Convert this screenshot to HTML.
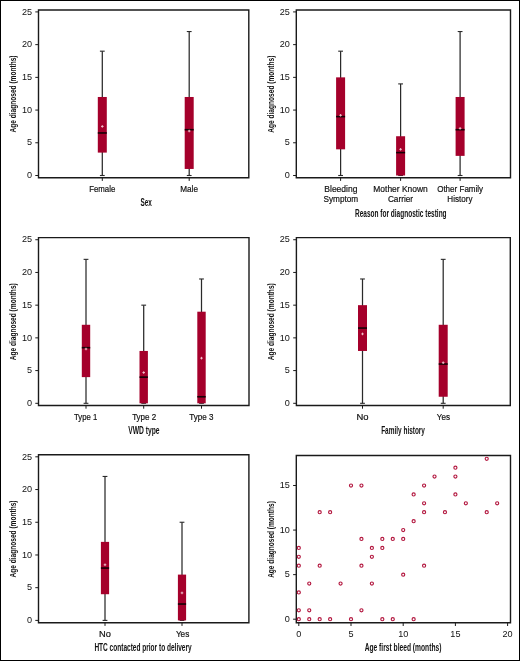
<!DOCTYPE html>
<html><head><meta charset="utf-8"><style>
html,body{margin:0;padding:0;background:#fff;}
#c{position:relative;width:520px;height:661px;box-sizing:border-box;border:1px solid #000;overflow:hidden;background:#fff;}
svg{position:absolute;left:-1px;top:-1px;will-change:transform;}
text{font-family:"Liberation Sans", sans-serif;}
</style></head><body>
<div id="c"><svg width="520" height="661" viewBox="0 0 520 661">
<path d="M38.5,10.0 H248.8 V177.7 H38.5 Z" fill="none" stroke="#1a1a1a" stroke-width="1.4"/>
<line x1="35.30" y1="175.50" x2="38.50" y2="175.50" stroke="#1a1a1a" stroke-width="1"/>
<text transform="translate(32.00,178.20)" font-size="9.1" text-anchor="end" font-weight="normal" fill="#111">0</text>
<line x1="35.30" y1="142.78" x2="38.50" y2="142.78" stroke="#1a1a1a" stroke-width="1"/>
<text transform="translate(32.00,145.48)" font-size="9.1" text-anchor="end" font-weight="normal" fill="#111">5</text>
<line x1="35.30" y1="110.07" x2="38.50" y2="110.07" stroke="#1a1a1a" stroke-width="1"/>
<text transform="translate(32.00,112.77)" font-size="9.1" text-anchor="end" font-weight="normal" fill="#111">10</text>
<line x1="35.30" y1="77.36" x2="38.50" y2="77.36" stroke="#1a1a1a" stroke-width="1"/>
<text transform="translate(32.00,80.06)" font-size="9.1" text-anchor="end" font-weight="normal" fill="#111">15</text>
<line x1="35.30" y1="44.64" x2="38.50" y2="44.64" stroke="#1a1a1a" stroke-width="1"/>
<text transform="translate(32.00,47.34)" font-size="9.1" text-anchor="end" font-weight="normal" fill="#111">20</text>
<line x1="35.30" y1="11.92" x2="38.50" y2="11.92" stroke="#1a1a1a" stroke-width="1"/>
<text transform="translate(32.00,14.62)" font-size="9.1" text-anchor="end" font-weight="normal" fill="#111">25</text>
<text transform="translate(16.20,132.56) rotate(-90) scale(0.708,1)" font-size="9.3" text-anchor="start" font-weight="bold" fill="#111">Age diagnosed (months)</text>
<line x1="102.30" y1="177.70" x2="102.30" y2="180.90" stroke="#1a1a1a" stroke-width="1"/>
<text transform="translate(89.17,191.80) scale(0.853,1)" font-size="9.2" text-anchor="start" font-weight="normal" fill="#111" stroke="#111" stroke-width="0.2">Female</text>
<line x1="189.20" y1="177.70" x2="189.20" y2="180.90" stroke="#1a1a1a" stroke-width="1"/>
<text transform="translate(180.25,191.80) scale(0.890,1)" font-size="9.2" text-anchor="start" font-weight="normal" fill="#111" stroke="#111" stroke-width="0.2">Male</text>
<line x1="102.30" y1="51.18" x2="102.30" y2="175.50" stroke="#2a2a2a" stroke-width="1.25"/>
<line x1="99.90" y1="175.50" x2="104.70" y2="175.50" stroke="#2a2a2a" stroke-width="1.1"/>
<line x1="99.90" y1="51.18" x2="104.70" y2="51.18" stroke="#2a2a2a" stroke-width="1.1"/>
<rect x="97.80" y="96.98" width="9.00" height="55.62" fill="#a5002b"/>
<rect x="97.80" y="132.17" width="9.00" height="1.6" fill="#150005"/>
<path d="M101.00,126.43 H103.60 M102.30,125.13 V127.73" stroke="#f3c9d3" stroke-width="0.9"/>
<line x1="189.20" y1="31.55" x2="189.20" y2="175.50" stroke="#2a2a2a" stroke-width="1.25"/>
<line x1="186.80" y1="175.50" x2="191.60" y2="175.50" stroke="#2a2a2a" stroke-width="1.1"/>
<line x1="186.80" y1="31.55" x2="191.60" y2="31.55" stroke="#2a2a2a" stroke-width="1.1"/>
<rect x="184.70" y="96.98" width="9.00" height="71.97" fill="#a5002b"/>
<rect x="184.70" y="128.90" width="9.00" height="1.6" fill="#150005"/>
<path d="M187.90,131.01 H190.50 M189.20,129.71 V132.31" stroke="#f3c9d3" stroke-width="0.9"/>
<text transform="translate(140.51,205.80) scale(0.642,1)" font-size="10.0" text-anchor="start" font-weight="bold" fill="#111">Sex</text>
<path d="M296.3,10.0 H510.5 V177.7 H296.3 Z" fill="none" stroke="#1a1a1a" stroke-width="1.4"/>
<line x1="293.10" y1="175.50" x2="296.30" y2="175.50" stroke="#1a1a1a" stroke-width="1"/>
<text transform="translate(289.80,178.20)" font-size="9.1" text-anchor="end" font-weight="normal" fill="#111">0</text>
<line x1="293.10" y1="142.78" x2="296.30" y2="142.78" stroke="#1a1a1a" stroke-width="1"/>
<text transform="translate(289.80,145.48)" font-size="9.1" text-anchor="end" font-weight="normal" fill="#111">5</text>
<line x1="293.10" y1="110.07" x2="296.30" y2="110.07" stroke="#1a1a1a" stroke-width="1"/>
<text transform="translate(289.80,112.77)" font-size="9.1" text-anchor="end" font-weight="normal" fill="#111">10</text>
<line x1="293.10" y1="77.36" x2="296.30" y2="77.36" stroke="#1a1a1a" stroke-width="1"/>
<text transform="translate(289.80,80.06)" font-size="9.1" text-anchor="end" font-weight="normal" fill="#111">15</text>
<line x1="293.10" y1="44.64" x2="296.30" y2="44.64" stroke="#1a1a1a" stroke-width="1"/>
<text transform="translate(289.80,47.34)" font-size="9.1" text-anchor="end" font-weight="normal" fill="#111">20</text>
<line x1="293.10" y1="11.92" x2="296.30" y2="11.92" stroke="#1a1a1a" stroke-width="1"/>
<text transform="translate(289.80,14.62)" font-size="9.1" text-anchor="end" font-weight="normal" fill="#111">25</text>
<text transform="translate(274.20,132.76) rotate(-90) scale(0.709,1)" font-size="9.3" text-anchor="start" font-weight="bold" fill="#111">Age diagnosed (months)</text>
<line x1="340.60" y1="177.70" x2="340.60" y2="180.90" stroke="#1a1a1a" stroke-width="1"/>
<text transform="translate(324.32,192.00) scale(0.926,1)" font-size="9.2" text-anchor="start" font-weight="normal" fill="#111" stroke="#111" stroke-width="0.2">Bleeding</text>
<text transform="translate(323.43,201.90) scale(0.895,1)" font-size="9.2" text-anchor="start" font-weight="normal" fill="#111" stroke="#111" stroke-width="0.2">Symptom</text>
<line x1="400.60" y1="177.70" x2="400.60" y2="180.90" stroke="#1a1a1a" stroke-width="1"/>
<text transform="translate(373.32,192.00) scale(0.920,1)" font-size="9.2" text-anchor="start" font-weight="normal" fill="#111" stroke="#111" stroke-width="0.2">Mother Known</text>
<text transform="translate(387.89,201.90) scale(0.898,1)" font-size="9.2" text-anchor="start" font-weight="normal" fill="#111" stroke="#111" stroke-width="0.2">Carrier</text>
<line x1="460.10" y1="177.70" x2="460.10" y2="180.90" stroke="#1a1a1a" stroke-width="1"/>
<text transform="translate(437.14,192.00) scale(0.876,1)" font-size="9.2" text-anchor="start" font-weight="normal" fill="#111" stroke="#111" stroke-width="0.2">Other Family</text>
<text transform="translate(447.35,201.90) scale(0.879,1)" font-size="9.2" text-anchor="start" font-weight="normal" fill="#111" stroke="#111" stroke-width="0.2">History</text>
<line x1="340.60" y1="51.18" x2="340.60" y2="175.50" stroke="#2a2a2a" stroke-width="1.25"/>
<line x1="338.20" y1="175.50" x2="343.00" y2="175.50" stroke="#2a2a2a" stroke-width="1.1"/>
<line x1="338.20" y1="51.18" x2="343.00" y2="51.18" stroke="#2a2a2a" stroke-width="1.1"/>
<rect x="336.10" y="77.36" width="9.00" height="71.97" fill="#a5002b"/>
<rect x="336.10" y="115.81" width="9.00" height="1.6" fill="#150005"/>
<path d="M339.30,115.30 H341.90 M340.60,114.00 V116.60" stroke="#f3c9d3" stroke-width="0.9"/>
<line x1="400.60" y1="83.90" x2="400.60" y2="175.50" stroke="#2a2a2a" stroke-width="1.25"/>
<line x1="398.20" y1="175.50" x2="403.00" y2="175.50" stroke="#2a2a2a" stroke-width="1.1"/>
<line x1="398.20" y1="83.90" x2="403.00" y2="83.90" stroke="#2a2a2a" stroke-width="1.1"/>
<rect x="396.10" y="136.24" width="9.00" height="39.26" fill="#a5002b"/>
<rect x="396.10" y="151.80" width="9.00" height="1.6" fill="#150005"/>
<path d="M399.30,149.33 H401.90 M400.60,148.03 V150.63" stroke="#f3c9d3" stroke-width="0.9"/>
<line x1="460.10" y1="31.55" x2="460.10" y2="175.50" stroke="#2a2a2a" stroke-width="1.25"/>
<line x1="457.70" y1="175.50" x2="462.50" y2="175.50" stroke="#2a2a2a" stroke-width="1.1"/>
<line x1="457.70" y1="31.55" x2="462.50" y2="31.55" stroke="#2a2a2a" stroke-width="1.1"/>
<rect x="455.60" y="96.98" width="9.00" height="58.89" fill="#a5002b"/>
<rect x="455.60" y="128.90" width="9.00" height="1.6" fill="#150005"/>
<path d="M458.80,128.39 H461.40 M460.10,127.09 V129.69" stroke="#f3c9d3" stroke-width="0.9"/>
<text transform="translate(354.98,216.60) scale(0.652,1)" font-size="10.0" text-anchor="start" font-weight="bold" fill="#111">Reason for diagnostic testing</text>
<path d="M38.5,237.60000000000002 H249.0 V405.5 H38.5 Z" fill="none" stroke="#1a1a1a" stroke-width="1.4"/>
<line x1="35.30" y1="403.30" x2="38.50" y2="403.30" stroke="#1a1a1a" stroke-width="1"/>
<text transform="translate(32.00,406.00)" font-size="9.1" text-anchor="end" font-weight="normal" fill="#111">0</text>
<line x1="35.30" y1="370.59" x2="38.50" y2="370.59" stroke="#1a1a1a" stroke-width="1"/>
<text transform="translate(32.00,373.29)" font-size="9.1" text-anchor="end" font-weight="normal" fill="#111">5</text>
<line x1="35.30" y1="337.87" x2="38.50" y2="337.87" stroke="#1a1a1a" stroke-width="1"/>
<text transform="translate(32.00,340.57)" font-size="9.1" text-anchor="end" font-weight="normal" fill="#111">10</text>
<line x1="35.30" y1="305.16" x2="38.50" y2="305.16" stroke="#1a1a1a" stroke-width="1"/>
<text transform="translate(32.00,307.86)" font-size="9.1" text-anchor="end" font-weight="normal" fill="#111">15</text>
<line x1="35.30" y1="272.44" x2="38.50" y2="272.44" stroke="#1a1a1a" stroke-width="1"/>
<text transform="translate(32.00,275.14)" font-size="9.1" text-anchor="end" font-weight="normal" fill="#111">20</text>
<line x1="35.30" y1="239.72" x2="38.50" y2="239.72" stroke="#1a1a1a" stroke-width="1"/>
<text transform="translate(32.00,242.42)" font-size="9.1" text-anchor="end" font-weight="normal" fill="#111">25</text>
<text transform="translate(16.20,360.36) rotate(-90) scale(0.708,1)" font-size="9.3" text-anchor="start" font-weight="bold" fill="#111">Age diagnosed (months)</text>
<line x1="86.00" y1="405.50" x2="86.00" y2="408.70" stroke="#1a1a1a" stroke-width="1"/>
<text transform="translate(74.05,419.60) scale(0.841,1)" font-size="9.2" text-anchor="start" font-weight="normal" fill="#111" stroke="#111" stroke-width="0.2">Type 1</text>
<line x1="143.70" y1="405.50" x2="143.70" y2="408.70" stroke="#1a1a1a" stroke-width="1"/>
<text transform="translate(132.14,419.60) scale(0.872,1)" font-size="9.2" text-anchor="start" font-weight="normal" fill="#111" stroke="#111" stroke-width="0.2">Type 2</text>
<line x1="201.50" y1="405.50" x2="201.50" y2="408.70" stroke="#1a1a1a" stroke-width="1"/>
<text transform="translate(189.24,419.60) scale(0.876,1)" font-size="9.2" text-anchor="start" font-weight="normal" fill="#111" stroke="#111" stroke-width="0.2">Type 3</text>
<line x1="86.00" y1="259.35" x2="86.00" y2="403.30" stroke="#2a2a2a" stroke-width="1.25"/>
<line x1="83.60" y1="403.30" x2="88.40" y2="403.30" stroke="#2a2a2a" stroke-width="1.1"/>
<line x1="83.60" y1="259.35" x2="88.40" y2="259.35" stroke="#2a2a2a" stroke-width="1.1"/>
<rect x="81.80" y="324.78" width="8.40" height="52.34" fill="#a5002b"/>
<rect x="81.80" y="346.88" width="8.40" height="1.6" fill="#150005"/>
<path d="M84.70,348.99 H87.30 M86.00,347.69 V350.29" stroke="#f3c9d3" stroke-width="0.9"/>
<line x1="143.70" y1="305.16" x2="143.70" y2="403.30" stroke="#2a2a2a" stroke-width="1.25"/>
<line x1="141.30" y1="403.30" x2="146.10" y2="403.30" stroke="#2a2a2a" stroke-width="1.1"/>
<line x1="141.30" y1="305.16" x2="146.10" y2="305.16" stroke="#2a2a2a" stroke-width="1.1"/>
<rect x="139.50" y="350.96" width="8.40" height="52.34" fill="#a5002b"/>
<rect x="139.50" y="376.33" width="8.40" height="1.6" fill="#150005"/>
<path d="M142.40,372.55 H145.00 M143.70,371.25 V373.85" stroke="#f3c9d3" stroke-width="0.9"/>
<line x1="201.50" y1="278.98" x2="201.50" y2="403.30" stroke="#2a2a2a" stroke-width="1.25"/>
<line x1="199.10" y1="403.30" x2="203.90" y2="403.30" stroke="#2a2a2a" stroke-width="1.1"/>
<line x1="199.10" y1="278.98" x2="203.90" y2="278.98" stroke="#2a2a2a" stroke-width="1.1"/>
<rect x="197.30" y="311.70" width="8.40" height="91.60" fill="#a5002b"/>
<rect x="197.30" y="395.96" width="8.40" height="1.6" fill="#150005"/>
<path d="M200.20,358.15 H202.80 M201.50,356.85 V359.45" stroke="#f3c9d3" stroke-width="0.9"/>
<text transform="translate(128.17,433.60) scale(0.675,1)" font-size="10.0" text-anchor="start" font-weight="bold" fill="#111">VWD type</text>
<path d="M296.4,237.60000000000002 H510.3 V405.5 H296.4 Z" fill="none" stroke="#1a1a1a" stroke-width="1.4"/>
<line x1="293.20" y1="403.30" x2="296.40" y2="403.30" stroke="#1a1a1a" stroke-width="1"/>
<text transform="translate(289.90,406.00)" font-size="9.1" text-anchor="end" font-weight="normal" fill="#111">0</text>
<line x1="293.20" y1="370.59" x2="296.40" y2="370.59" stroke="#1a1a1a" stroke-width="1"/>
<text transform="translate(289.90,373.29)" font-size="9.1" text-anchor="end" font-weight="normal" fill="#111">5</text>
<line x1="293.20" y1="337.87" x2="296.40" y2="337.87" stroke="#1a1a1a" stroke-width="1"/>
<text transform="translate(289.90,340.57)" font-size="9.1" text-anchor="end" font-weight="normal" fill="#111">10</text>
<line x1="293.20" y1="305.16" x2="296.40" y2="305.16" stroke="#1a1a1a" stroke-width="1"/>
<text transform="translate(289.90,307.86)" font-size="9.1" text-anchor="end" font-weight="normal" fill="#111">15</text>
<line x1="293.20" y1="272.44" x2="296.40" y2="272.44" stroke="#1a1a1a" stroke-width="1"/>
<text transform="translate(289.90,275.14)" font-size="9.1" text-anchor="end" font-weight="normal" fill="#111">20</text>
<line x1="293.20" y1="239.72" x2="296.40" y2="239.72" stroke="#1a1a1a" stroke-width="1"/>
<text transform="translate(289.90,242.42)" font-size="9.1" text-anchor="end" font-weight="normal" fill="#111">25</text>
<text transform="translate(274.20,360.36) rotate(-90) scale(0.708,1)" font-size="9.3" text-anchor="start" font-weight="bold" fill="#111">Age diagnosed (months)</text>
<line x1="362.50" y1="405.50" x2="362.50" y2="408.70" stroke="#1a1a1a" stroke-width="1"/>
<text transform="translate(356.55,419.60) scale(1.026,1)" font-size="9.2" text-anchor="start" font-weight="normal" fill="#111" stroke="#111" stroke-width="0.2">No</text>
<line x1="443.20" y1="405.50" x2="443.20" y2="408.70" stroke="#1a1a1a" stroke-width="1"/>
<text transform="translate(436.80,419.60) scale(0.879,1)" font-size="9.2" text-anchor="start" font-weight="normal" fill="#111" stroke="#111" stroke-width="0.2">Yes</text>
<line x1="362.50" y1="278.98" x2="362.50" y2="403.30" stroke="#2a2a2a" stroke-width="1.25"/>
<line x1="360.10" y1="403.30" x2="364.90" y2="403.30" stroke="#2a2a2a" stroke-width="1.1"/>
<line x1="360.10" y1="278.98" x2="364.90" y2="278.98" stroke="#2a2a2a" stroke-width="1.1"/>
<rect x="358.00" y="305.16" width="9.00" height="45.80" fill="#a5002b"/>
<rect x="358.00" y="327.26" width="9.00" height="1.6" fill="#150005"/>
<path d="M361.20,333.94 H363.80 M362.50,332.64 V335.24" stroke="#f3c9d3" stroke-width="0.9"/>
<line x1="443.20" y1="259.35" x2="443.20" y2="403.30" stroke="#2a2a2a" stroke-width="1.25"/>
<line x1="440.80" y1="403.30" x2="445.60" y2="403.30" stroke="#2a2a2a" stroke-width="1.1"/>
<line x1="440.80" y1="259.35" x2="445.60" y2="259.35" stroke="#2a2a2a" stroke-width="1.1"/>
<rect x="438.70" y="324.78" width="9.00" height="71.97" fill="#a5002b"/>
<rect x="438.70" y="363.24" width="9.00" height="1.6" fill="#150005"/>
<path d="M441.90,362.73 H444.50 M443.20,361.43 V364.03" stroke="#f3c9d3" stroke-width="0.9"/>
<text transform="translate(381.18,433.60) scale(0.647,1)" font-size="10.0" text-anchor="start" font-weight="bold" fill="#111">Family history</text>
<path d="M38.5,454.8 H248.9 V622.7 H38.5 Z" fill="none" stroke="#1a1a1a" stroke-width="1.4"/>
<line x1="35.30" y1="620.40" x2="38.50" y2="620.40" stroke="#1a1a1a" stroke-width="1"/>
<text transform="translate(32.00,623.10)" font-size="9.1" text-anchor="end" font-weight="normal" fill="#111">0</text>
<line x1="35.30" y1="587.68" x2="38.50" y2="587.68" stroke="#1a1a1a" stroke-width="1"/>
<text transform="translate(32.00,590.38)" font-size="9.1" text-anchor="end" font-weight="normal" fill="#111">5</text>
<line x1="35.30" y1="554.97" x2="38.50" y2="554.97" stroke="#1a1a1a" stroke-width="1"/>
<text transform="translate(32.00,557.67)" font-size="9.1" text-anchor="end" font-weight="normal" fill="#111">10</text>
<line x1="35.30" y1="522.25" x2="38.50" y2="522.25" stroke="#1a1a1a" stroke-width="1"/>
<text transform="translate(32.00,524.96)" font-size="9.1" text-anchor="end" font-weight="normal" fill="#111">15</text>
<line x1="35.30" y1="489.54" x2="38.50" y2="489.54" stroke="#1a1a1a" stroke-width="1"/>
<text transform="translate(32.00,492.24)" font-size="9.1" text-anchor="end" font-weight="normal" fill="#111">20</text>
<line x1="35.30" y1="456.82" x2="38.50" y2="456.82" stroke="#1a1a1a" stroke-width="1"/>
<text transform="translate(32.00,459.52)" font-size="9.1" text-anchor="end" font-weight="normal" fill="#111">25</text>
<text transform="translate(16.20,577.56) rotate(-90) scale(0.708,1)" font-size="9.3" text-anchor="start" font-weight="bold" fill="#111">Age diagnosed (months)</text>
<line x1="105.00" y1="622.70" x2="105.00" y2="625.90" stroke="#1a1a1a" stroke-width="1"/>
<text transform="translate(98.96,636.80) scale(1.007,1)" font-size="9.2" text-anchor="start" font-weight="normal" fill="#111" stroke="#111" stroke-width="0.2">No</text>
<line x1="182.00" y1="622.70" x2="182.00" y2="625.90" stroke="#1a1a1a" stroke-width="1"/>
<text transform="translate(175.89,636.80) scale(0.893,1)" font-size="9.2" text-anchor="start" font-weight="normal" fill="#111" stroke="#111" stroke-width="0.2">Yes</text>
<line x1="105.00" y1="476.45" x2="105.00" y2="620.40" stroke="#2a2a2a" stroke-width="1.25"/>
<line x1="102.60" y1="620.40" x2="107.40" y2="620.40" stroke="#2a2a2a" stroke-width="1.1"/>
<line x1="102.60" y1="476.45" x2="107.40" y2="476.45" stroke="#2a2a2a" stroke-width="1.1"/>
<rect x="100.90" y="541.88" width="8.20" height="52.34" fill="#a5002b"/>
<rect x="100.90" y="567.26" width="8.20" height="1.6" fill="#150005"/>
<path d="M103.70,564.78 H106.30 M105.00,563.48 V566.08" stroke="#f3c9d3" stroke-width="0.9"/>
<line x1="182.00" y1="522.25" x2="182.00" y2="620.40" stroke="#2a2a2a" stroke-width="1.25"/>
<line x1="179.60" y1="620.40" x2="184.40" y2="620.40" stroke="#2a2a2a" stroke-width="1.1"/>
<line x1="179.60" y1="522.25" x2="184.40" y2="522.25" stroke="#2a2a2a" stroke-width="1.1"/>
<rect x="177.90" y="574.60" width="8.20" height="45.80" fill="#a5002b"/>
<rect x="177.90" y="603.24" width="8.20" height="1.6" fill="#150005"/>
<path d="M180.70,592.92 H183.30 M182.00,591.62 V594.22" stroke="#f3c9d3" stroke-width="0.9"/>
<text transform="translate(94.38,650.80) scale(0.654,1)" font-size="10.0" text-anchor="start" font-weight="bold" fill="#111">HTC contacted prior to delivery</text>
<path d="M296.3,455.5 H510.5 V622.8 H296.3 Z" fill="none" stroke="#1a1a1a" stroke-width="1.4"/>
<line x1="293.10" y1="619.20" x2="296.30" y2="619.20" stroke="#1a1a1a" stroke-width="1"/>
<text transform="translate(289.80,621.90)" font-size="9.1" text-anchor="end" font-weight="normal" fill="#111">0</text>
<line x1="293.10" y1="574.63" x2="296.30" y2="574.63" stroke="#1a1a1a" stroke-width="1"/>
<text transform="translate(289.80,577.34)" font-size="9.1" text-anchor="end" font-weight="normal" fill="#111">5</text>
<line x1="293.10" y1="530.07" x2="296.30" y2="530.07" stroke="#1a1a1a" stroke-width="1"/>
<text transform="translate(289.80,532.77)" font-size="9.1" text-anchor="end" font-weight="normal" fill="#111">10</text>
<line x1="293.10" y1="485.51" x2="296.30" y2="485.51" stroke="#1a1a1a" stroke-width="1"/>
<text transform="translate(289.80,488.21)" font-size="9.1" text-anchor="end" font-weight="normal" fill="#111">15</text>
<line x1="298.80" y1="622.80" x2="298.80" y2="626.00" stroke="#1a1a1a" stroke-width="1"/>
<text transform="translate(298.80,636.80)" font-size="9.1" text-anchor="middle" font-weight="normal" fill="#111">0</text>
<line x1="351.00" y1="622.80" x2="351.00" y2="626.00" stroke="#1a1a1a" stroke-width="1"/>
<text transform="translate(351.00,636.80)" font-size="9.1" text-anchor="middle" font-weight="normal" fill="#111">5</text>
<line x1="403.20" y1="622.80" x2="403.20" y2="626.00" stroke="#1a1a1a" stroke-width="1"/>
<text transform="translate(403.20,636.80)" font-size="9.1" text-anchor="middle" font-weight="normal" fill="#111">10</text>
<line x1="455.40" y1="622.80" x2="455.40" y2="626.00" stroke="#1a1a1a" stroke-width="1"/>
<text transform="translate(455.40,636.80)" font-size="9.1" text-anchor="middle" font-weight="normal" fill="#111">15</text>
<line x1="507.60" y1="622.80" x2="507.60" y2="626.00" stroke="#1a1a1a" stroke-width="1"/>
<text transform="translate(507.60,636.80)" font-size="9.1" text-anchor="middle" font-weight="normal" fill="#111">20</text>
<circle cx="298.80" cy="619.20" r="1.55" fill="none" stroke="#b3173f" stroke-width="1.15"/>
<circle cx="309.24" cy="619.20" r="1.55" fill="none" stroke="#b3173f" stroke-width="1.15"/>
<circle cx="319.68" cy="619.20" r="1.55" fill="none" stroke="#b3173f" stroke-width="1.15"/>
<circle cx="330.12" cy="619.20" r="1.55" fill="none" stroke="#b3173f" stroke-width="1.15"/>
<circle cx="351.00" cy="619.20" r="1.55" fill="none" stroke="#b3173f" stroke-width="1.15"/>
<circle cx="382.32" cy="619.20" r="1.55" fill="none" stroke="#b3173f" stroke-width="1.15"/>
<circle cx="392.76" cy="619.20" r="1.55" fill="none" stroke="#b3173f" stroke-width="1.15"/>
<circle cx="413.64" cy="619.20" r="1.55" fill="none" stroke="#b3173f" stroke-width="1.15"/>
<circle cx="298.80" cy="610.29" r="1.55" fill="none" stroke="#b3173f" stroke-width="1.15"/>
<circle cx="309.24" cy="610.29" r="1.55" fill="none" stroke="#b3173f" stroke-width="1.15"/>
<circle cx="361.44" cy="610.29" r="1.55" fill="none" stroke="#b3173f" stroke-width="1.15"/>
<circle cx="298.80" cy="592.46" r="1.55" fill="none" stroke="#b3173f" stroke-width="1.15"/>
<circle cx="309.24" cy="583.55" r="1.55" fill="none" stroke="#b3173f" stroke-width="1.15"/>
<circle cx="340.56" cy="583.55" r="1.55" fill="none" stroke="#b3173f" stroke-width="1.15"/>
<circle cx="371.88" cy="583.55" r="1.55" fill="none" stroke="#b3173f" stroke-width="1.15"/>
<circle cx="403.20" cy="574.63" r="1.55" fill="none" stroke="#b3173f" stroke-width="1.15"/>
<circle cx="298.80" cy="565.72" r="1.55" fill="none" stroke="#b3173f" stroke-width="1.15"/>
<circle cx="319.68" cy="565.72" r="1.55" fill="none" stroke="#b3173f" stroke-width="1.15"/>
<circle cx="361.44" cy="565.72" r="1.55" fill="none" stroke="#b3173f" stroke-width="1.15"/>
<circle cx="424.08" cy="565.72" r="1.55" fill="none" stroke="#b3173f" stroke-width="1.15"/>
<circle cx="298.80" cy="556.81" r="1.55" fill="none" stroke="#b3173f" stroke-width="1.15"/>
<circle cx="371.88" cy="556.81" r="1.55" fill="none" stroke="#b3173f" stroke-width="1.15"/>
<circle cx="298.80" cy="547.90" r="1.55" fill="none" stroke="#b3173f" stroke-width="1.15"/>
<circle cx="371.88" cy="547.90" r="1.55" fill="none" stroke="#b3173f" stroke-width="1.15"/>
<circle cx="382.32" cy="547.90" r="1.55" fill="none" stroke="#b3173f" stroke-width="1.15"/>
<circle cx="361.44" cy="538.98" r="1.55" fill="none" stroke="#b3173f" stroke-width="1.15"/>
<circle cx="382.32" cy="538.98" r="1.55" fill="none" stroke="#b3173f" stroke-width="1.15"/>
<circle cx="392.76" cy="538.98" r="1.55" fill="none" stroke="#b3173f" stroke-width="1.15"/>
<circle cx="403.20" cy="538.98" r="1.55" fill="none" stroke="#b3173f" stroke-width="1.15"/>
<circle cx="403.20" cy="530.07" r="1.55" fill="none" stroke="#b3173f" stroke-width="1.15"/>
<circle cx="413.64" cy="521.16" r="1.55" fill="none" stroke="#b3173f" stroke-width="1.15"/>
<circle cx="319.68" cy="512.24" r="1.55" fill="none" stroke="#b3173f" stroke-width="1.15"/>
<circle cx="330.12" cy="512.24" r="1.55" fill="none" stroke="#b3173f" stroke-width="1.15"/>
<circle cx="424.08" cy="512.24" r="1.55" fill="none" stroke="#b3173f" stroke-width="1.15"/>
<circle cx="444.96" cy="512.24" r="1.55" fill="none" stroke="#b3173f" stroke-width="1.15"/>
<circle cx="486.72" cy="512.24" r="1.55" fill="none" stroke="#b3173f" stroke-width="1.15"/>
<circle cx="424.08" cy="503.33" r="1.55" fill="none" stroke="#b3173f" stroke-width="1.15"/>
<circle cx="465.84" cy="503.33" r="1.55" fill="none" stroke="#b3173f" stroke-width="1.15"/>
<circle cx="497.16" cy="503.33" r="1.55" fill="none" stroke="#b3173f" stroke-width="1.15"/>
<circle cx="413.64" cy="494.42" r="1.55" fill="none" stroke="#b3173f" stroke-width="1.15"/>
<circle cx="455.40" cy="494.42" r="1.55" fill="none" stroke="#b3173f" stroke-width="1.15"/>
<circle cx="351.00" cy="485.51" r="1.55" fill="none" stroke="#b3173f" stroke-width="1.15"/>
<circle cx="361.44" cy="485.51" r="1.55" fill="none" stroke="#b3173f" stroke-width="1.15"/>
<circle cx="424.08" cy="485.51" r="1.55" fill="none" stroke="#b3173f" stroke-width="1.15"/>
<circle cx="434.52" cy="476.59" r="1.55" fill="none" stroke="#b3173f" stroke-width="1.15"/>
<circle cx="455.40" cy="476.59" r="1.55" fill="none" stroke="#b3173f" stroke-width="1.15"/>
<circle cx="455.40" cy="467.68" r="1.55" fill="none" stroke="#b3173f" stroke-width="1.15"/>
<circle cx="486.72" cy="458.77" r="1.55" fill="none" stroke="#b3173f" stroke-width="1.15"/>
<text transform="translate(274.20,577.86) rotate(-90) scale(0.705,1)" font-size="9.3" text-anchor="start" font-weight="bold" fill="#111">Age diagnosed (months)</text>
<text transform="translate(364.63,650.50) scale(0.668,1)" font-size="10.0" text-anchor="start" font-weight="bold" fill="#111">Age first bleed (months)</text>
</svg></div>
</body></html>
